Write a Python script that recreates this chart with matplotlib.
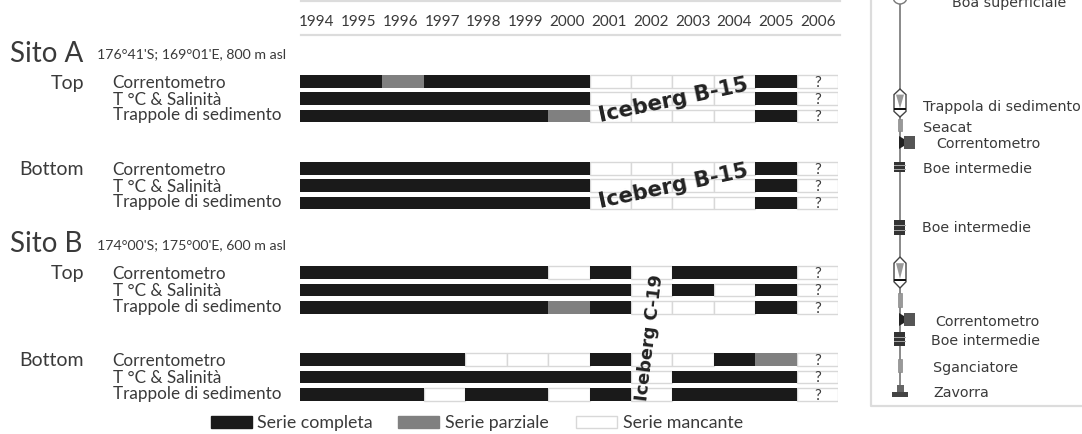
import numpy as np
import matplotlib
matplotlib.use("Agg")
import matplotlib.pyplot as plt
from matplotlib.patches import Rectangle, Polygon, Circle

W, H = 1082, 435

years = list(range(1994, 2007))
# 2 = serie completa, 1 = serie parziale, 0 = serie mancante (2006 is unknown)
a_top_corr = [2, 2, 1, 2, 2, 2, 2, 0, 0, 0, 0, 2, 0]
a_top_temp = [2, 2, 2, 2, 2, 2, 2, 0, 0, 0, 0, 2, 0]
a_top_trap = [2, 2, 2, 2, 2, 2, 1, 0, 0, 0, 0, 2, 0]
a_bot_corr = [2, 2, 2, 2, 2, 2, 2, 0, 0, 0, 0, 2, 0]
a_bot_temp = [2, 2, 2, 2, 2, 2, 2, 0, 0, 0, 0, 2, 0]
a_bot_trap = [2, 2, 2, 2, 2, 2, 2, 0, 0, 0, 0, 2, 0]
b_top_corr = [2, 2, 2, 2, 2, 2, 0, 2, 0, 2, 2, 2, 0]
b_top_temp = [2, 2, 2, 2, 2, 2, 2, 2, 0, 2, 0, 2, 0]
b_top_trap = [2, 2, 2, 2, 2, 2, 1, 2, 0, 0, 0, 2, 0]
b_bot_corr = [2, 2, 2, 2, 0, 0, 0, 2, 0, 0, 2, 1, 0]
b_bot_temp = [2, 2, 2, 2, 2, 2, 2, 2, 0, 2, 2, 2, 0]
b_bot_trap = [2, 2, 2, 0, 2, 2, 0, 2, 0, 2, 2, 2, 0]

series = [a_top_corr, a_top_temp, a_top_trap,
          a_bot_corr, a_bot_temp, a_bot_trap,
          b_top_corr, b_top_temp, b_top_trap,
          b_bot_corr, b_bot_temp, b_bot_trap]
instruments = ["Correntometro", "T °C & Salinità", "Trappole di sedimento"]
group_start = [0, 5, 11, 16]

colors = {2: "#1a1a1a", 1: "#808080", 0: "white"}
text_col = "#3a3a3a"
rule_col = "#dcdcdc"
main_font = "Lato"
hand_font = "DejaVu Sans"

fig = plt.figure(figsize=(W / 100, H / 100), dpi=100)

# year axis, one x unit is a year, one y unit is a row
x0, x1, y0, y1 = 299.6, 838.0, 36, 435
row_px, row0_px = 17.4, 82.3
ax = fig.add_axes([x0 / W, 1 - y1 / H, (x1 - x0) / W, (y1 - y0) / H])
ax.set_xlim(1994, 2007)
ax.set_ylim((y1 - row0_px) / row_px, (y0 - row0_px) / row_px)
for side in ax.spines:
    ax.spines[side].set_visible(False)
ax.patch.set_alpha(0)
ax.xaxis.tick_top()
ax.set_xticks(np.array(years) + 0.42 + (np.array(years) - 1994) * 0.008)
ax.set_xticklabels(years, fontsize=11, color=text_col, family=main_font)
ax.tick_params(axis="x", length=0, pad=4.7)
ax.set_yticks([])

rows = [g + i for g in group_start for i in range(3)]
for row, values in zip(rows, series):
    for year, v in zip(years, values):
        if v == 0:
            ax.barh(row, 1, left=year, height=0.72, align="center", color="white",
                    edgecolor="#d8d8d8", linewidth=1, zorder=1)
    for year, v in zip(years, values):
        if v != 0:
            ax.barh(row, 1, left=year, height=0.72, align="center", color=colors[v], zorder=2)
    ax.text(2006.5, row + 0.02, "?", ha="center", va="center", fontsize=11, color=text_col,
            family=main_font, zorder=3)

ax.text(2003.02, 1.02, "Iceberg B-15", rotation=12, ha="center", va="center", fontsize=15.3,
        fontweight="bold", color="#222222", family=hand_font, zorder=4)
ax.text(2003.02, 6.0, "Iceberg B-15", rotation=12, ha="center", va="center", fontsize=15.3,
        fontweight="bold", color="#222222", family=hand_font, zorder=4)
ax.text(2002.46, 14.7, "Iceberg C-19", rotation=83, ha="center", va="center", fontsize=12.8,
        fontweight="bold", color="#222222", family=hand_font, zorder=4)

# everything else is laid out in pixels, text by its baseline
px = fig.add_axes([0, 0, 1, 1])
px.set_xlim(0, W)
px.set_ylim(H, 0)
px.axis("off")
px.patch.set_alpha(0)

px.plot([301, 840], [1.7, 1.7], color=rule_col, lw=1.6)
px.plot([301, 840], [35.7, 35.7], color=rule_col, lw=1.6)

for name, coords, y_site, y_coord in [("Sito A", "176°41'S; 169°01'E, 800 m asl", 61.7, 58.3),
                                      ("Sito B", "174°00'S; 175°00'E, 600 m asl", 252.3, 249)]:
    px.text(10, y_site, name, fontsize=20, color=text_col, family=main_font, va="baseline")
    px.text(97.3, y_coord, coords, fontsize=10.2, color=text_col, family=main_font, va="baseline")

for label, y in [("Top", 89.3), ("Bottom", 175.5), ("Top", 279.3), ("Bottom", 366)]:
    px.text(84, y, label, fontsize=14, color=text_col, family=main_font, ha="right", va="baseline")

inst_y = [88.3, 105.2, 120, 175.3, 191.9, 206.7, 279, 295.9, 311.7, 366, 382.7, 399]
for i, y in enumerate(inst_y):
    px.text(112.7, y, instruments[i % 3], fontsize=12.3, color=text_col, family=main_font, va="baseline")

# legend
for xl, label, xt, col, ec in [(210.5, "Serie completa", 257, colors[2], colors[2]),
                               (398.4, "Serie parziale", 445, colors[1], colors[1]),
                               (576, "Serie mancante", 623, "white", "#d8d8d8")]:
    px.add_patch(Rectangle((xl, 417.3), 41, 12, fc=col, ec=ec, lw=1))
    px.text(xt, 428.3, label, fontsize=12.8, color=text_col, family=main_font, va="baseline")

# mooring panel
px.plot([871, 871, 1082], [0, 406.7, 406.7], color=rule_col, lw=1.6)
px.plot([900, 900], [0, 395], color="#808080", lw=1.3, zorder=1)
px.add_patch(Circle((900, -2), 7, fc="white", ec="#777777", lw=1, zorder=2, clip_on=True))

for top, bot in [(90, 118), (258, 289)]:
    mid = (bot - top) * 0.2
    px.add_patch(Polygon([(900, top), (906, top + mid), (906, bot - mid), (900, bot),
                          (894, bot - mid), (894, top + mid)], fc="white", ec="#444444", lw=1, zorder=2))
    px.add_patch(Polygon([(896, top + mid), (904, top + mid), (900, bot - mid - 3)], fc="#999999", zorder=3))
    px.add_patch(Rectangle((894, bot - mid - 3), 12, 2, fc="#111111", zorder=3))

for top, bot in [(120, 132), (294, 308), (360, 373)]:
    px.add_patch(Rectangle((898, top), 4, bot - top, fc="#999999", ec="#888888", lw=0.5, zorder=2))

for top, bot in [(137, 150), (314, 327)]:
    px.add_patch(Polygon([(899, top), (904, top + 3), (904, bot - 3), (899, bot)], fc="#222222", zorder=2))
    px.add_patch(Rectangle((904, top), 11, bot - top, fc="#555555", zorder=2))

for top, bot in [(163, 173), (221, 236), (333, 347)]:
    px.add_patch(Rectangle((894, top), 11, bot - top, fc="#333333", zorder=2))
    for yy in np.linspace(top, bot, 4)[1:-1]:
        px.plot([894, 905], [yy, yy], color="#aaaaaa", lw=0.7, zorder=3)

px.add_patch(Rectangle((897, 386), 7, 7, fc="#666666", zorder=2))
px.add_patch(Rectangle((892, 393), 16, 5, fc="#444444", zorder=2))

mooring_labels = [("Boa superficiale", 952, 3), ("Trappola di sedimento", 923, 107),
                  ("Seacat", 923, 128), ("Correntometro", 936, 144),
                  ("Boe intermedie", 923, 169), ("Boe intermedie", 922, 228),
                  ("Correntometro", 935, 322), ("Boe intermedie", 931, 341),
                  ("Sganciatore", 933, 368), ("Zavorra", 933, 393)]
for label, x, y in mooring_labels:
    px.text(x, y, label, fontsize=10.3, color=text_col, family=hand_font, va="center")

fig.savefig("out.png", dpi=100)
